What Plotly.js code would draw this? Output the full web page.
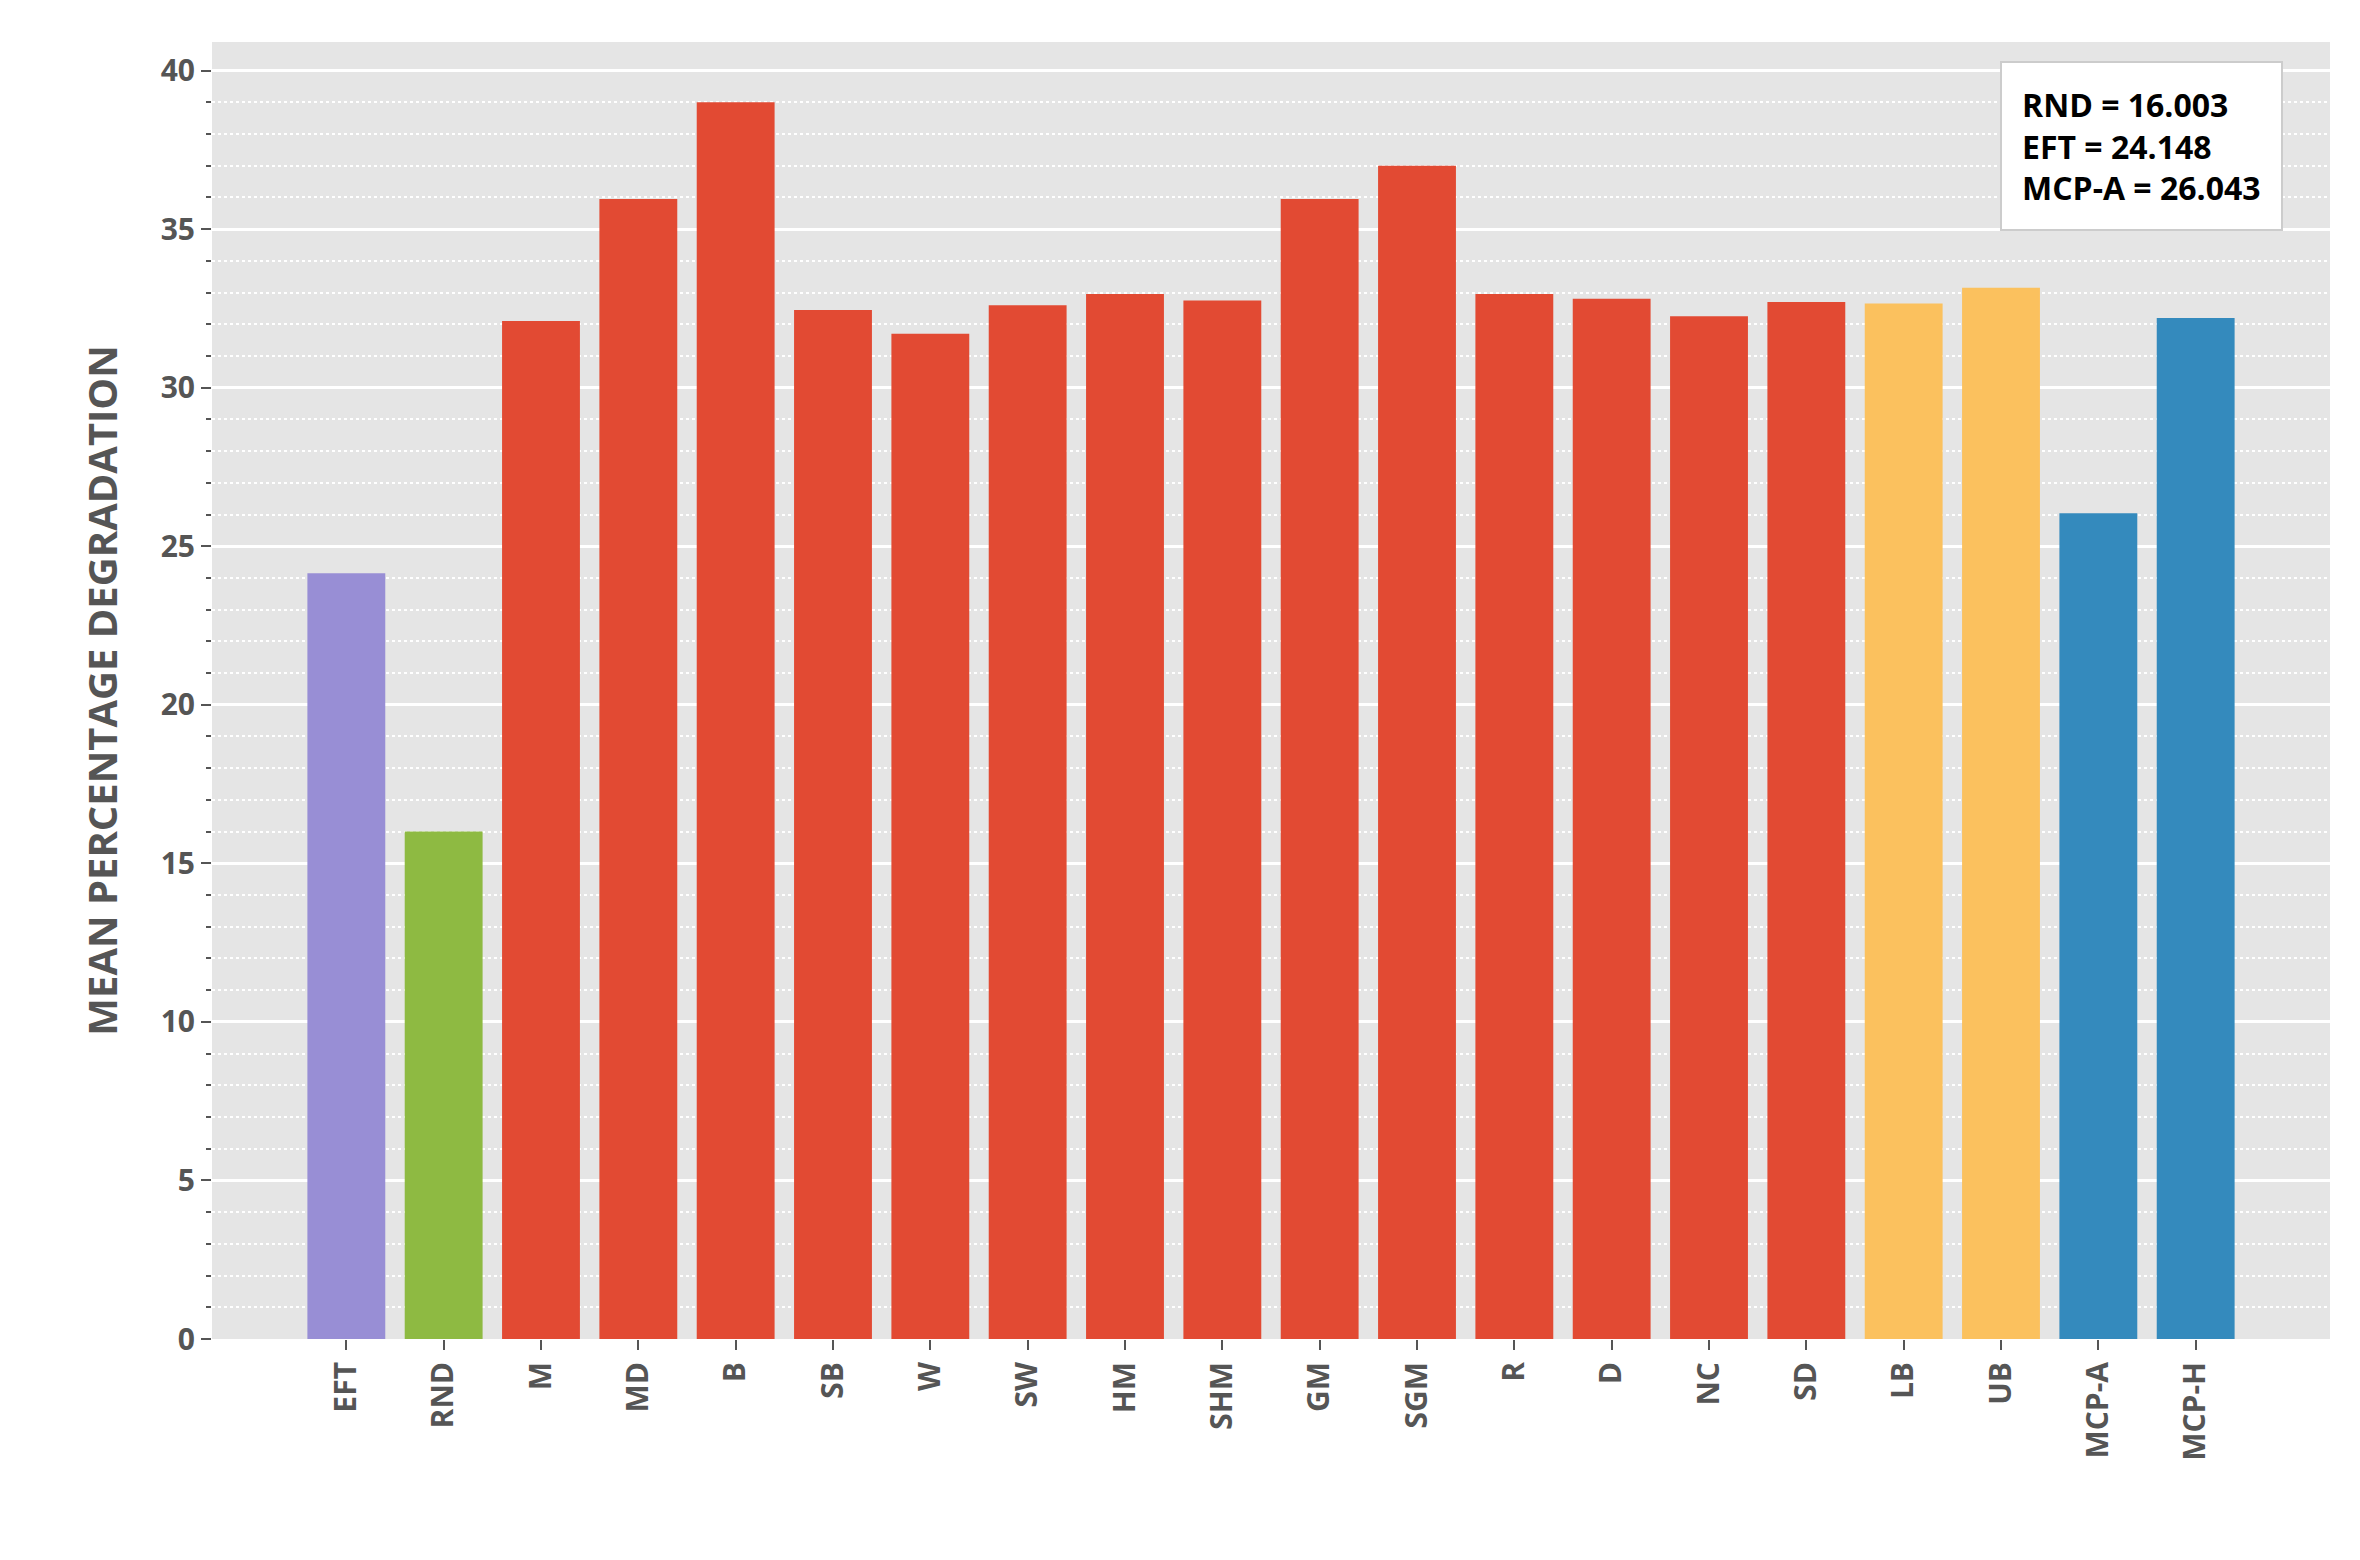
<!DOCTYPE html>
<html><head><meta charset="utf-8">
<script src="https://cdn.plot.ly/plotly-3.0.1.min.js"></script>
<style>body{margin:0;background:#fff}#chart{width:2360px;height:1560px}</style>
</head><body><div id="chart"></div>
<script>
const methods = ['EFT','RND','M','MD','B','SB','W','SW','HM','SHM','GM','SGM','R','D','NC','SD','LB','UB','MCP-A','MCP-H'];
const degradation = [24.148,16.003,32.1,35.95,39.0,32.45,31.7,32.6,32.95,32.75,35.95,37.0,32.95,32.8,32.25,32.7,32.65,33.15,26.043,32.2];
const groups = ['eft','rnd','h','h','h','h','h','h','h','h','h','h','h','h','h','h','bound','bound','mcp','mcp'];
const groupColors = {eft:'#988ED5', rnd:'#8EBA42', h:'#E24A33', bound:'#FBC15E', mcp:'#348ABD'};

const font = "'Open Sans', 'DejaVu Sans', sans-serif";
const data = [{
  type: 'bar', x: methods.map((m, i) => i), y: degradation,
  marker: {color: groups.map(g => groupColors[g]), line: {width: 0}},
  hoverinfo: 'x+y'
}];

const layout = {
  width: 2360, height: 1560,
  margin: {l: 212, r: 30, t: 42, b: 221},
  paper_bgcolor: '#fff', plot_bgcolor: '#E5E5E5',
  bargap: 0.2, showlegend: false,
  font: {family: font, color: '#555', size: 30},
  xaxis: {
    tickvals: methods.map((m, i) => i), ticktext: methods.map(m => '<b>' + m + '</b>'),
    tickangle: -90, range: [-1.38, 20.38], showgrid: false, zeroline: false,
    ticks: 'outside', ticklen: 10, tickwidth: 2, tickcolor: '#555',
    tickfont: {size: 30, color: '#555'}
  },
  yaxis: {
    range: [0, 40.9], dtick: 5, ticks: 'outside', ticklen: 10, tickwidth: 2, tickcolor: '#555',
    gridcolor: '#fff', gridwidth: 2.5, zeroline: false,
    tickfont: {size: 30, color: '#555'}, tickprefix: '<b>', ticksuffix: '</b>',
    minor: {dtick: 1, showgrid: true, gridcolor: '#fff', griddash: 'dot', gridwidth: 2,
            ticks: 'outside', ticklen: 5, tickcolor: '#555'},
    title: {text: '<b>MEAN PERCENTAGE DEGRADATION</b>', font: {size: 40, color: '#555'}, standoff: 30}
  },
  annotations: [{
    xref: 'paper', yref: 'paper', x: 0.978, y: 0.985, xanchor: 'right', yanchor: 'top',
    align: 'left', showarrow: false,
    text: '<b>RND = 16.003</b><br><b>EFT = 24.148</b><br><b>MCP-A = 26.043</b>',
    font: {size: 32, color: '#000'}, bgcolor: '#fff', bordercolor: '#ccc', borderwidth: 2,
    borderpad: 20
  }]
};
Plotly.newPlot('chart', data, layout, {displayModeBar: false});
</script></body></html>
